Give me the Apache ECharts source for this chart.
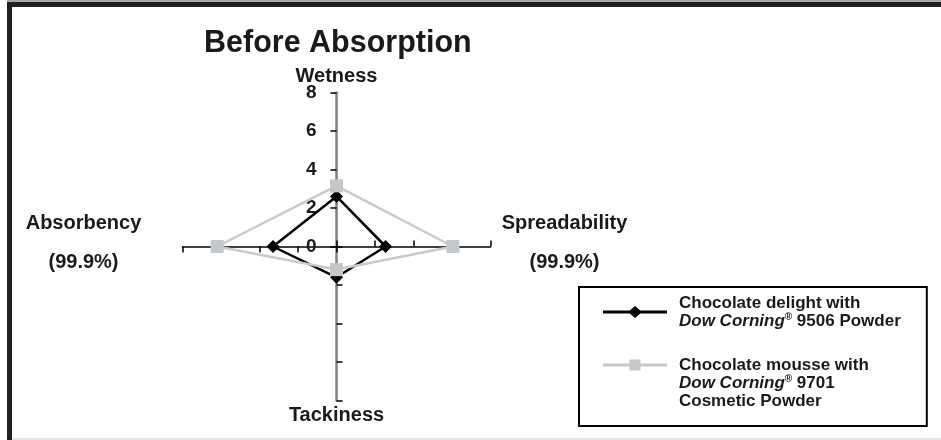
<!DOCTYPE html>
<html>
<head>
<meta charset="utf-8">
<script src="https://cdn.jsdelivr.net/npm/echarts@6/dist/echarts.min.js"></script>
<style>
  html, body { margin: 0; padding: 0; background: #fff; }
  #chart { width: 941px; height: 440px; }
</style>
</head>
<body>
<div id="chart"></div>
<script>
// data
const indicatorNames = ['Wetness', 'Absorbency', 'Tackiness', 'Spreadability'];
const indicatorNotes = ['', '(99.9%)', '', '(99.9%)'];
const axisMin = 0;
const axisMax = 8;
const splitCount = 4;
const delightValues = [2.6, 3.3, 1.6, 2.55];
const mousseValues = [3.15, 6.2, 1.2, 6.05];
const seriesNames = [
  'Chocolate delight with Dow Corning® 9506 Powder',
  'Chocolate mousse with Dow Corning® 9701 Cosmetic Powder'
];

const FONT = '"Liberation Sans", Arial, sans-serif';
const center = [336.5, 246.5];
const radius = 154;

// per-axis look: vertical axes grey, horizontal black
const axisLook = [
  { color: '#808080', width: 2.5, gap: 6 },
  { color: '#000', width: 1.5, gap: 34 },
  { color: '#808080', width: 2.5, gap: 5 },
  { color: '#000', width: 1.5, gap: 9 }
];

const mainIndicators = indicatorNames.map((n, i) => ({
  name: n,
  min: axisMin,
  max: axisMax,
  nameGap: axisLook[i].gap,
  nameMoveOverlap: false,
  axisLine: { lineStyle: { color: axisLook[i].color, width: axisLook[i].width } },
  axisLabel: { show: i === 0 }
}));

const legendText = {};
legendText[seriesNames[0]] = '{b|Chocolate delight with}\n{i|Dow Corning}{sup|®}{b| 9506 Powder}';
// two blank lines on top so the icon sits on the first text line
legendText[seriesNames[1]] = '{b| }\n{b| }\n{b|Chocolate mousse with}\n{i|Dow Corning}{sup|®}{b| 9701}\n{b|Cosmetic Powder}';

const myChart = echarts.init(document.getElementById('chart'));

const option = {
  animation: false,
  backgroundColor: '#fff',
  title: {
    text: 'Before Absorption',
    left: 204,
    top: 28,
    padding: 0,
    textStyle: { fontFamily: FONT, fontSize: 30.5, fontWeight: 'bold', color: '#1a1a1a' }
  },
  graphic: [
    { type: 'rect', shape: { x: 7, y: 0, width: 934, height: 2 }, style: { fill: '#a8a8a8' } },
    { type: 'rect', shape: { x: 7, y: 2, width: 934, height: 5 }, style: { fill: '#231f20' } },
    { type: 'rect', shape: { x: 7, y: 2, width: 5, height: 438 }, style: { fill: '#231f20' } },
    { type: 'rect', shape: { x: 12, y: 438, width: 929, height: 2 }, style: { fill: '#e6e6e6' } }
  ],
  legend: {
    orient: 'vertical',
    left: 579,
    top: 287,
    height: 300,
    padding: [7, 26, 16, 24],
    borderColor: '#000',
    borderWidth: 2,
    itemWidth: 64,
    itemHeight: 12,
    itemGap: -10,
    selectedMode: false,
    data: [
      { name: seriesNames[0], icon: 'path://M0 4.5H64V7.5H0Z M32 0L39 6L32 12L25 6Z' },
      { name: seriesNames[1], icon: 'path://M0 4.5H64V7.5H0Z M26.5 0.5H37.5V11.5H26.5Z' }
    ],
    formatter: function (name) { return legendText[name]; },
    textStyle: {
      fontFamily: FONT,
      fontSize: 17,
      lineHeight: 18,
      color: '#1a1a1a',
      padding: [0, 0, 0, 7],
      rich: {
        b: { fontFamily: FONT, fontSize: 17, fontWeight: 'bold', lineHeight: 18, color: '#1a1a1a' },
        i: { fontFamily: FONT, fontSize: 17, fontStyle: 'italic', fontWeight: 'bold', lineHeight: 18, color: '#1a1a1a' },
        sup: { fontFamily: FONT, fontSize: 10, fontWeight: 'bold', lineHeight: 18, verticalAlign: 'top', color: '#1a1a1a' }
      }
    }
  },
  radar: [
    {
      center: center,
      radius: radius,
      shape: 'polygon',
      splitNumber: splitCount,
      indicator: mainIndicators,
      axisName: {
        color: '#1a1a1a',
        fontFamily: FONT,
        fontSize: 20,
        fontWeight: 'bold',
        formatter: function (name) {
          const k = indicatorNames.indexOf(name);
          if (indicatorNotes[k]) {
            return '{n|' + name + '}\n{n|' + indicatorNotes[k] + '}\n{s| }';
          }
          return name;
        },
        rich: {
          n: { width: 130, align: 'center', lineHeight: 39, fontFamily: FONT, fontSize: 20, fontWeight: 'bold', color: '#1a1a1a' },
          s: { lineHeight: 8, fontSize: 8 }
        }
      },
      axisLine: { show: true, lineStyle: { color: '#000', width: 1.5 } },
      axisTick: { show: true, length: 6, lineStyle: { color: '#000', width: 1.5 } },
      axisLabel: {
        show: true,
        margin: 20,
        fontFamily: FONT,
        fontSize: 19,
        fontWeight: 'bold',
        color: '#1a1a1a'
      },
      splitLine: { show: false },
      splitArea: { show: false }
    },
    {
      // second radar only for the inner half of each tick
      center: center,
      radius: radius,
      shape: 'polygon',
      splitNumber: splitCount,
      silent: true,
      indicator: indicatorNames.map(n => ({ name: n, min: axisMin, max: axisMax })),
      axisName: { show: false },
      axisLine: { show: false },
      axisTick: { show: true, inside: true, length: 6, lineStyle: { color: '#000', width: 1.5 } },
      axisLabel: { show: false },
      splitLine: { show: false },
      splitArea: { show: false }
    }
  ],
  series: [
    {
      type: 'radar',
      radarIndex: 0,
      data: [
        {
          name: seriesNames[0],
          value: delightValues,
          symbol: 'diamond',
          symbolSize: 13,
          itemStyle: { color: '#000' },
          lineStyle: { color: '#000', width: 2.5 }
        },
        {
          name: seriesNames[1],
          value: mousseValues,
          symbol: 'rect',
          symbolSize: 13,
          itemStyle: { color: '#c4c8ca' },
          lineStyle: { color: '#c8cacb', width: 2.5 }
        }
      ]
    }
  ]
};

myChart.setOption(option);
</script>
</body>
</html>
